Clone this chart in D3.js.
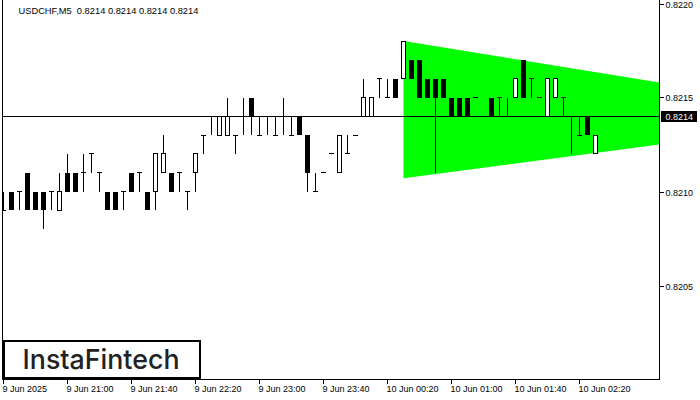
<!DOCTYPE html>
<html><head><meta charset="utf-8">
<script src="https://cdn.jsdelivr.net/npm/d3@7"></script>
<style>html,body{margin:0;padding:0;background:#fff;} svg{display:block}</style>
</head><body><svg id="c" width="700" height="400"></svg>
<script>
// ---- data ----
const startTime = "2025-06-09T20:20:00Z";   // first M5 bar
const barMinutes = 5;
const opens  = [0.8209,0.8210,0.8210,0.8211,0.8210,0.8210,0.8210,0.8209,0.8211,0.8211,
                0.8211,0.8212,0.8211,0.8210,0.8210,0.8210,0.8211,0.8211,0.8210,0.8210,
                0.8211,0.8211,0.8211,0.8210,0.8211,0.8213,0.8214,0.8213,0.8213,0.8213,
                0.8214,0.8215,0.8213,0.8214,0.8213,0.8214,0.8213,0.8214,0.8213,0.8210,
                0.8211,0.8212,0.8211,0.8212,0.8213,0.8214,0.8214,0.8216,0.8215,0.8216,
                0.8216,0.8217,0.8217,0.8216,0.8216,0.8216,0.8215,0.8215,0.8215,0.8215,
                0.8214,0.8215,0.8215,0.8214,0.8215,0.8217,0.8216,0.8215,0.8214,0.8215,
                0.8215,0.8214,0.8213,0.8214,0.8212];
const highs  = [0.8210,0.8210,0.8210,0.8211,0.8210,0.8210,0.8210,0.8211,0.8212,0.8211,
                0.8212,0.8212,0.8211,0.8210,0.8210,0.8210,0.8211,0.8211,0.8210,0.8212,
                0.8213,0.8211,0.8211,0.8210,0.8212,0.8213,0.8214,0.8214,0.8215,0.8213,
                0.8215,0.8215,0.8214,0.8214,0.8214,0.8215,0.8214,0.8214,0.8213,0.8211,
                0.8211,0.8212,0.8213,0.8213,0.8213,0.8216,0.8215,0.8216,0.8216,0.8216,
                0.8218,0.8217,0.8217,0.8216,0.8216,0.8216,0.8215,0.8215,0.8215,0.8215,
                0.8214,0.8215,0.8215,0.8215,0.8216,0.8217,0.8216,0.8215,0.8216,0.8216,
                0.8215,0.8214,0.8214,0.8214,0.8213];
const lows   = [0.8209,0.8209,0.8209,0.8209,0.8209,0.8208,0.8209,0.8209,0.8210,0.8210,
                0.8210,0.8211,0.8210,0.8209,0.8209,0.8209,0.8210,0.8210,0.8209,0.8209,
                0.8211,0.8210,0.8210,0.8209,0.8210,0.8212,0.8213,0.8213,0.8213,0.8212,
                0.8213,0.8213,0.8213,0.8213,0.8213,0.8213,0.8213,0.8213,0.8210,0.8210,
                0.8211,0.8212,0.8211,0.8212,0.8213,0.8214,0.8214,0.8215,0.8215,0.8215,
                0.8216,0.8216,0.8215,0.8215,0.8211,0.8215,0.8214,0.8214,0.8214,0.8215,
                0.8214,0.8214,0.8214,0.8214,0.8215,0.8215,0.8215,0.8215,0.8214,0.8215,
                0.8214,0.8212,0.8213,0.8213,0.8212];
const closes = [0.8209,0.8209,0.8210,0.8209,0.8209,0.8209,0.8210,0.8210,0.8210,0.8210,
                0.8211,0.8212,0.8211,0.8209,0.8209,0.8210,0.8210,0.8211,0.8209,0.8212,
                0.8212,0.8210,0.8211,0.8210,0.8212,0.8213,0.8214,0.8214,0.8214,0.8213,
                0.8214,0.8214,0.8213,0.8214,0.8213,0.8214,0.8213,0.8213,0.8211,0.8210,
                0.8211,0.8212,0.8213,0.8212,0.8213,0.8215,0.8215,0.8216,0.8215,0.8215,
                0.8218,0.8216,0.8215,0.8215,0.8215,0.8215,0.8214,0.8214,0.8214,0.8215,
                0.8214,0.8214,0.8215,0.8214,0.8216,0.8215,0.8216,0.8215,0.8216,0.8216,
                0.8215,0.8214,0.8213,0.8213,0.8213];
const yTickValues = [0.8220, 0.8215, 0.8210, 0.8205];
const xTickTimes  = ["2025-06-09T20:20:00Z","2025-06-09T21:00:00Z","2025-06-09T21:40:00Z",
                     "2025-06-09T22:20:00Z","2025-06-09T23:00:00Z","2025-06-09T23:40:00Z",
                     "2025-06-10T00:20:00Z","2025-06-10T01:00:00Z","2025-06-10T01:40:00Z",
                     "2025-06-10T02:20:00Z"];
const xTickLabels = ["9 Jun 2025","9 Jun 21:00","9 Jun 21:40","9 Jun 22:20","9 Jun 23:00",
                     "9 Jun 23:40","10 Jun 00:20","10 Jun 01:00","10 Jun 01:40","10 Jun 02:20"];
const bidPrice = 0.8214;
const titleText = "USDCHF,M5  0.8214 0.8214 0.8214 0.8214";
const triUpperLine = [["2025-06-10T00:30:00Z", 0.82180], ["2025-06-10T03:10:00Z", 0.82158]];
const triLowerLine = [["2025-06-10T00:30:00Z", 0.82107], ["2025-06-10T03:10:00Z", 0.82125]];
const logoText = "InstaFintech";

// ---- layout ----
const plotLeft = 2.5, plotRight = 659.5, plotBottom = 379.5;
const svg = d3.select("#c");
const t0 = new Date(startTime);
const bars = opens.map((o, i) => ({
  t: d3.utcMinute.offset(t0, i * barMinutes), o, h: highs[i], l: lows[i], c: closes[i]
}));
const x = d3.scaleUtc().domain([t0, d3.utcMinute.offset(t0, barMinutes)]).range([3.5, 11.5]);
const y = d3.scaleLinear().domain([0.8220, 0.8205]).range([3.5, 285.5]);

svg.append("defs").append("clipPath").attr("id", "plot")
  .append("rect").attr("x", plotLeft).attr("y", 0).attr("width", plotRight - plotLeft).attr("height", plotBottom);

const g = svg.append("g").attr("clip-path", "url(#plot)");

// triangle pattern
const tri = [
  [x(new Date(triUpperLine[0][0])), y(triUpperLine[0][1])],
  [x(new Date(triUpperLine[1][0])), y(triUpperLine[1][1])],
  [x(new Date(triLowerLine[1][0])), y(triLowerLine[1][1])],
  [x(new Date(triLowerLine[0][0])), y(triLowerLine[0][1])]
];
g.append("polygon").attr("points", tri.map(p => p.join(",")).join(" ")).attr("fill", "#00ff00");

// bid line
g.append("line").attr("x1", plotLeft).attr("x2", plotRight)
  .attr("y1", y(bidPrice)).attr("y2", y(bidPrice))
  .attr("stroke", "#000").attr("stroke-width", 1).attr("shape-rendering", "crispEdges");

// candles
const cg = g.append("g").attr("shape-rendering", "crispEdges");
bars.forEach(b => {
  const cx = x(b.t);
  cg.append("line").attr("x1", cx).attr("x2", cx).attr("y1", y(b.h)).attr("y2", y(b.l))
    .attr("stroke", "#000").attr("stroke-width", 1);
  const top = y(Math.max(b.o, b.c)), bot = y(Math.min(b.o, b.c));
  if (b.o === b.c) {
    cg.append("line").attr("x1", cx - 2.5).attr("x2", cx + 2.5).attr("y1", top).attr("y2", top)
      .attr("stroke", "#000").attr("stroke-width", 1);
  } else if (b.c > b.o) {
    cg.append("rect").attr("x", cx - 2).attr("y", top).attr("width", 4).attr("height", bot - top)
      .attr("fill", "#fff").attr("stroke", "#000").attr("stroke-width", 1);
  } else {
    cg.append("rect").attr("x", cx - 2.5).attr("y", top).attr("width", 5).attr("height", bot - top)
      .attr("fill", "#000");
  }
});

// frame
const fr = svg.append("g").attr("stroke", "#000").attr("stroke-width", 1).attr("shape-rendering", "crispEdges");
fr.append("line").attr("x1", plotLeft).attr("x2", plotLeft).attr("y1", 0).attr("y2", plotBottom);
fr.append("line").attr("x1", plotLeft).attr("x2", plotRight).attr("y1", plotBottom).attr("y2", plotBottom);
fr.append("line").attr("x1", plotRight).attr("x2", plotRight).attr("y1", 0).attr("y2", plotBottom);

const font = "'Liberation Sans', Arial, sans-serif";

// y axis
yTickValues.forEach(v => {
  const yy = Math.round(y(v)) + 0.5;
  fr.append("line").attr("x1", plotRight).attr("x2", plotRight + 4).attr("y1", yy).attr("y2", yy);
  svg.append("text").attr("x", 665.5).attr("y", yy + 3.5).attr("font-family", font)
    .attr("font-size", 9).attr("fill", "#000").text(d3.format(".4f")(v));
});
// bid label
svg.append("rect").attr("x", 661).attr("y", Math.round(y(bidPrice)) - 5).attr("width", 36).attr("height", 11).attr("fill", "#000");
svg.append("text").attr("x", 665.5).attr("y", Math.round(y(bidPrice)) + 3.5).attr("font-family", font)
  .attr("font-size", 9).attr("fill", "#fff").text(d3.format(".4f")(bidPrice));

// x axis
xTickTimes.forEach((s, i) => {
  const xx = x(new Date(s));
  fr.append("line").attr("x1", xx).attr("x2", xx).attr("y1", plotBottom).attr("y2", plotBottom + 4);
  svg.append("text").attr("x", xx - 1).attr("y", 392).attr("font-family", font)
    .attr("font-size", 9).attr("fill", "#000").text(xTickLabels[i]);
});

// title
svg.append("text").attr("x", 18.5).attr("y", 14).attr("font-family", font).attr("font-size", 9.3)
  .attr("fill", "#000").style("white-space", "pre").text(titleText);

// logo
svg.append("rect").attr("x", 4).attr("y", 341).attr("width", 196).attr("height", 37)
  .attr("fill", "#fff").attr("stroke", "#000").attr("stroke-width", 2);
svg.append("text").attr("x", 22.5).attr("y", 369).attr("font-family", "Inter, 'Noto Sans', sans-serif")
  .attr("font-weight", 500).attr("font-size", 27.5).attr("fill", "#222")
  .attr("textLength", 157).attr("lengthAdjust", "spacingAndGlyphs").text(logoText);
</script></body></html>
